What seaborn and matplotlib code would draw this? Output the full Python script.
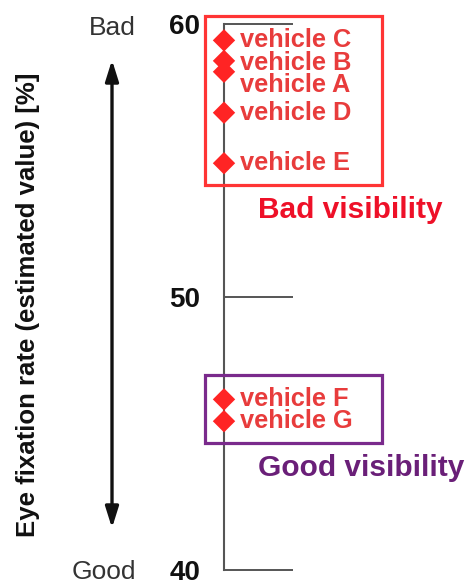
import matplotlib
matplotlib.use('Agg')
import matplotlib.pyplot as plt
from matplotlib.patches import Rectangle
import seaborn as sns
import pandas as pd

# eye fixation rate
vehicles = ['vehicle C', 'vehicle B', 'vehicle A', 'vehicle D', 'vehicle E',
            'vehicle F', 'vehicle G']
fixation_rate = [59.4, 58.65, 58.25, 56.75, 54.9, 46.25, 45.45]
group = ['bad', 'bad', 'bad', 'bad', 'bad', 'good', 'good']
y_ticks = [40, 50, 60]

df = pd.DataFrame({'vehicle': vehicles, 'rate': fixation_rate, 'group': group})
df['x'] = 0

sns.set_style('white')
plt.rcParams['font.family'] = ['Liberation Sans', 'DejaVu Sans']

W, H = 469, 585
fig = plt.figure(figsize=(W / 100, H / 100), dpi=100)
ax = fig.add_axes([224 / W, 15 / H, 245 / W, 546 / H])
ax.set_xlim(0, 245)
ax.set_ylim(40, 60)

sns.scatterplot(data=df, x='x', y='rate', marker='D', s=130, color='#ff2424',
                edgecolor='none', ax=ax, clip_on=False, zorder=5, legend=False)

# labels next to points (A and B nudged apart to keep them readable)
label_shift = {'vehicle B': -0.08, 'vehicle A': -0.5}
for name, val in zip(vehicles, fixation_rate):
    ax.text(16, val + label_shift.get(name, 0), name, color='#e83c3c',
            fontsize=18.3, fontweight='bold', va='center', ha='left')

# group boxes
box_style = {'bad': ('#ff3434', 'Bad visibility', '#ee1028'),
             'good': ('#7a2a8c', 'Good visibility', '#6a1f78')}
for g, (edge, title, tcol) in box_style.items():
    vals = df.loc[df['group'] == g, 'rate']
    top, bottom = vals.max() + 0.9, vals.min() - 0.8
    ax.add_patch(Rectangle((-19, bottom), 177, top - bottom, fill=False,
                           edgecolor=edge, linewidth=2.3, clip_on=False, zorder=4))
    ax.text(34, bottom - 0.92, title, color=tcol, fontsize=21.5,
            fontweight='bold', va='center', ha='left')

# axis styling: only the left spine, ticks drawn to the right
for side in ['top', 'right', 'bottom']:
    ax.spines[side].set_visible(False)
ax.spines['left'].set_color('#555555')
ax.spines['left'].set_linewidth(1.5)
ax.set_xticks([])
ax.set_yticks(y_ticks)
ax.set_yticklabels([str(t) for t in y_ticks], fontsize=20, fontweight='bold')
ax.tick_params(axis='y', left=True, direction='in', length=50, width=1.4,
               color='#555555', pad=17, labelcolor='#111111')
for lab in ax.get_yticklabels():
    lab.set_clip_on(False)
ax.set_xlabel('')
ax.set_ylabel('')

# left side annotation
fig.text(28 / W, 1 - 305 / H, 'Eye fixation rate (estimated value) [%]',
         rotation=90, fontsize=18.5, fontweight='bold', ha='center', va='center',
         color='#111111')
fig.text(112 / W, 1 - 28 / H, 'Bad', fontsize=19, ha='center', va='center',
         color='#333333')
fig.text(104 / W, 1 - 572 / H, 'Good', fontsize=19, ha='center', va='center',
         color='#333333')
ax.annotate('', xy=(112 / W, 1 - 60 / H), xytext=(112 / W, 1 - 528 / H),
            xycoords='figure fraction', textcoords='figure fraction',
            arrowprops=dict(arrowstyle='<|-|>,head_length=0.7,head_width=0.22',
                            color='#111111', lw=2.4, mutation_scale=18,
                            shrinkA=0, shrinkB=0))

fig.savefig('out.png', dpi=100)
